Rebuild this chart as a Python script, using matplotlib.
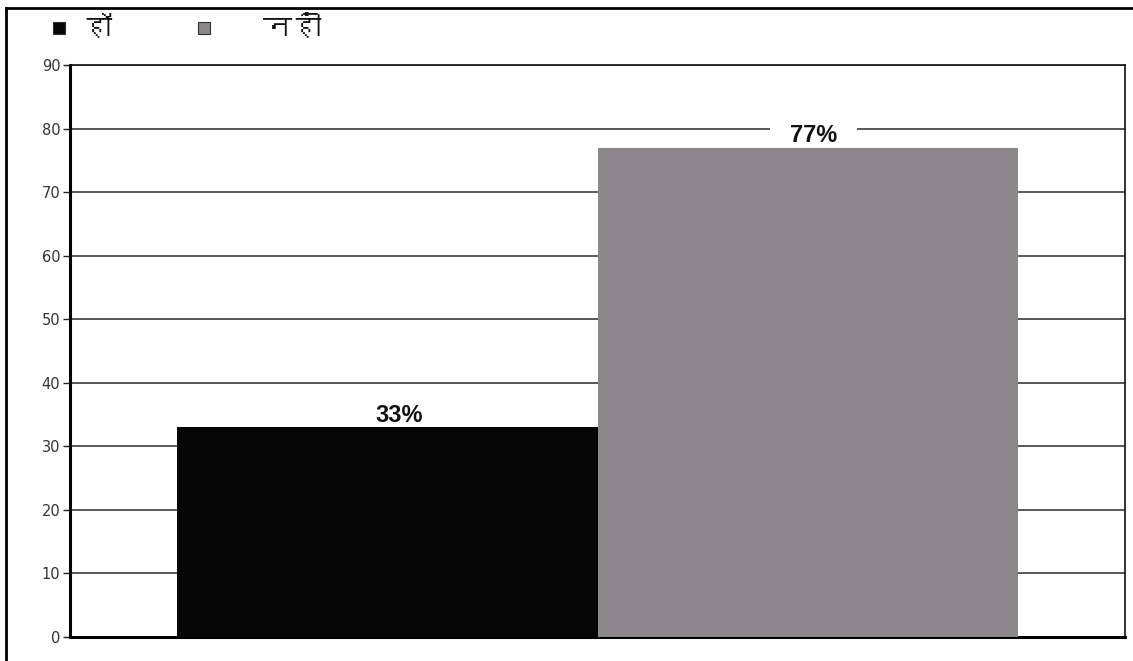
import matplotlib
matplotlib.use("Agg")
import matplotlib.pyplot as plt
from matplotlib import font_manager
from matplotlib.ft2font import FT2Font
from matplotlib.patches import Rectangle
from matplotlib.lines import Line2D

series = ["हॉ", "नहीं"]
values = [33, 77]
labels = ["33%", "77%"]
colors = ["#050505", "#8a868a"]
yticks = [0, 10, 20, 30, 40, 50, 60, 70, 80, 90]


def find_font(code):
    # first installed family that has the glyph
    for f in font_manager.fontManager.ttflist:
        try:
            if code in FT2Font(f.fname).get_charmap():
                return f.name
        except Exception:
            pass
    return None


deva = find_font(0x0939)
fams = ([deva] if deva else []) + ["DejaVu Sans"]

W, H = 1133, 661
fig = plt.figure(figsize=(W / 100, H / 100), dpi=100)
fig.patch.set_facecolor("white")


def fx(px):
    return px / W


def fy(py):
    return 1 - py / H


ax = fig.add_axes([fx(70), fy(637), fx(1125) - fx(70), fy(65) - fy(637)])

w = 0.399
xs = [-w / 2, w / 2]
bars = ax.bar(xs, values, width=w, color=colors, zorder=3, linewidth=0)
ax.set_xlim(-0.5, 0.5)
ax.set_ylim(0, 90)
ax.set_yticks(yticks)
ax.set_xticks([])
ax.yaxis.grid(True, color="#2a2a2a", linewidth=1.1, zorder=1)
ax.set_axisbelow(True)
ax.tick_params(axis="y", length=5, width=1, color="#222222", labelsize=10.5,
               labelcolor="#333333", pad=2)
for s in ["top", "right"]:
    ax.spines[s].set_linewidth(1.2)
    ax.spines[s].set_color("#111111")
for s in ["left", "bottom"]:
    ax.spines[s].set_linewidth(2.2)
    ax.spines[s].set_color("#000000")

offs = [0.0115, 0.005]
for b, v, lab, o in zip(bars, values, labels, offs):
    cx = b.get_x() + b.get_width() / 2 + o
    # white patch that breaks the gridline behind the label
    ax.add_patch(Rectangle((cx - 0.041, v), 0.082, 5, facecolor="white",
                           edgecolor="none", zorder=2))
    ax.text(cx, v + 0.85, lab, ha="center", va="baseline",
            fontsize=17, fontweight="bold", family="Liberation Sans", color="#111111", zorder=5)

# legend, drawn by hand to keep the odd spacing
sq = 12
for x0, c in zip([53, 198], colors):
    fig.add_artist(Rectangle((fx(x0), fy(34)), sq / W, sq / H, transform=fig.transFigure,
                             facecolor=c, edgecolor="#333333", linewidth=0.8))
for x0, s in zip([82, 263], series):
    fig.text(fx(x0), fy(37), s, fontsize=21, family=fams, color="#111111", va="baseline")

# outer frame
fig.add_artist(Line2D([fx(6), fx(6)], [fy(8), 0], transform=fig.transFigure, color="black", lw=2))
fig.add_artist(Line2D([fx(6), 1], [fy(8), fy(8)], transform=fig.transFigure, color="black", lw=2))

fig.savefig("out.png", dpi=100)
